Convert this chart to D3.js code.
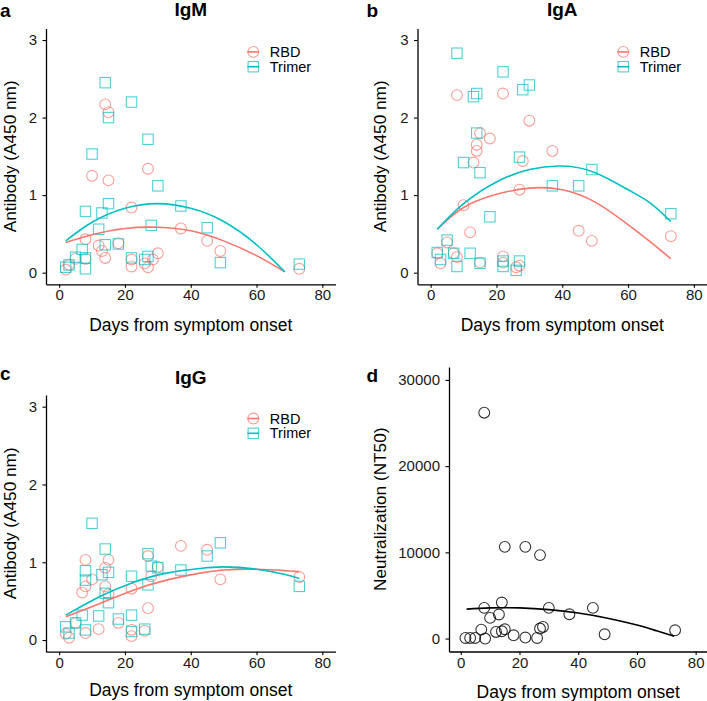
<!DOCTYPE html>
<html>
<head>
<meta charset="utf-8">
<script src="https://cdn.jsdelivr.net/npm/d3@7"></script>
<style>
  html, body { margin: 0; padding: 0; background: #fff; }
  svg { display: block; font-family: "Liberation Sans", Arial, sans-serif; }
</style>
</head>
<body>
<svg id="chart" width="707" height="701"></svg>
<script>
// ---------------- DATA ----------------
const xTicks = [0, 20, 40, 60, 80];
const abTicks = [0, 1, 2, 3];
const ntTicks = [0, 10000, 20000, 30000];
const seriesNames = ["RBD", "Trimer"];
const panelTitles = ["IgM", "IgA", "IgG"];
const panelLabels = ["a", "b", "c", "d"];

// IgM
const igmRbdDays   = [2, 3, 5, 8, 8, 10, 12, 13, 14, 14, 15, 15, 18, 22, 22, 22, 26, 27, 27, 28.5, 30, 37, 45, 49, 73];
const igmRbdVals   = [0.04, 0.10, 0.18, 0.43, 0.18, 1.25, 0.35, 0.28, 2.17, 0.19, 2.07, 1.19, 0.38, 0.84, 0.17, 0.08, 0.12, 1.34, 0.07, 0.17, 0.25, 0.57, 0.41, 0.28, 0.05];
const igmTriDays   = [2, 3, 5, 7, 8, 8, 8, 10, 12, 13, 14, 14, 15, 15, 18, 22, 22, 26, 27, 27, 28, 30, 37, 45, 49, 73];
const igmTriVals   = [0.07, 0.10, 0.20, 0.30, 0.79, 0.19, 0.05, 1.53, 0.56, 0.77, 2.45, 0.36, 2.00, 0.89, 0.37, 2.20, 0.19, 0.17, 1.72, 0.21, 0.61, 1.12, 0.86, 0.58, 0.13, 0.11];
const igmFitDays   = [2, 10, 20, 30, 40, 50, 60, 68.6];
const igmRbdFit    = [0.39, 0.49, 0.57, 0.585, 0.54, 0.41, 0.22, 0.01];
const igmTriFit    = [0.41, 0.65, 0.83, 0.89, 0.83, 0.66, 0.36, 0.01];

// IgA
const igaRbdDays   = [2, 3, 5, 7, 8, 8, 10, 12, 13, 14, 14, 15, 15, 18, 22, 22, 22, 26, 27, 27, 28, 30, 37, 45, 49, 73];
const igaRbdVals   = [0.25, 0.12, 0.39, 0.25, 2.29, 0.20, 0.87, 0.52, 1.42, 1.65, 1.57, 1.80, 0.13, 1.73, 2.31, 0.21, 0.13, 0.07, 1.07, 0.09, 1.44, 1.96, 1.57, 0.54, 0.41, 0.47];
const igaTriDays   = [2, 3, 5, 7, 8, 8, 10, 12, 13, 14, 14, 15, 15, 18, 22, 22, 22, 26, 27, 27, 28, 30, 37, 45, 49, 73];
const igaTriVals   = [0.26, 0.17, 0.42, 0.25, 2.83, 0.08, 1.42, 0.25, 2.27, 2.31, 1.80, 1.29, 0.12, 0.72, 2.59, 0.15, 0.08, 0.03, 1.49, 0.15, 2.36, 2.42, 1.12, 1.12, 1.33, 0.76];
const igaFitDays   = [2, 10, 20, 30, 40, 50, 60, 66.7, 73];
const igaRbdFit    = [0.56, 0.84, 1.01, 1.09, 1.07, 0.91, 0.62, 0.40, 0.18];
const igaTriFit    = [0.56, 0.89, 1.17, 1.33, 1.375, 1.29, 1.07, 0.90, 0.66];

// IgG
const iggRbdDays   = [2, 3, 5, 7, 8, 8, 8, 10, 12, 14, 14, 15, 15, 18, 22, 22, 22, 26, 27, 27, 28, 30, 37, 45, 49, 73];
const iggRbdVals   = [0.08, 0.03, 0.22, 0.61, 1.03, 0.69, 0.09, 0.78, 0.14, 0.69, 0.93, 1.03, 0.59, 0.22, 0.66, 0.13, 0.05, 0.12, 1.08, 0.41, 0.82, 0.94, 1.21, 1.16, 0.78, 0.81];
const iggTriDays   = [2, 3, 5, 7, 8, 8, 8, 10, 12, 13, 14, 14, 15, 15, 18, 22, 22, 22, 26, 27, 27, 28, 30, 37, 45, 49, 73];
const iggTriVals   = [0.17, 0.09, 0.22, 0.32, 0.89, 0.77, 0.13, 1.50, 0.31, 0.84, 1.17, 0.60, 0.87, 0.48, 0.27, 0.82, 0.32, 0.11, 0.14, 1.11, 0.71, 0.95, 0.93, 0.90, 1.08, 1.25, 0.69];
const iggFitDays   = [2, 12.4, 22.5, 32.6, 42.8, 50, 60, 69, 73];
const iggRbdFit    = [0.30, 0.47, 0.64, 0.77, 0.86, 0.90, 0.91, 0.89, 0.88];
const iggTriFit    = [0.32, 0.56, 0.74, 0.86, 0.92, 0.94, 0.91, 0.84, 0.79];

// Neutralization
const ntDays  = [1.6, 3.2, 4.9, 7, 8, 8, 8.3, 10, 12, 13, 14, 14, 15, 15, 18, 22, 22, 26, 27, 27, 28, 30, 37, 45, 49, 73];
const ntVals  = [70, 70, 70, 1040, 26200, 3560, 0, 2400, 770, 2790, 4180, 850, 10640, 1080, 380, 10640, 120, 70, 9680, 1160, 1350, 3560, 2820, 3560, 500, 960];
const ntFitDays = [2, 10, 20, 30, 40, 50, 60, 66.7, 72.7];
const ntFit     = [3410, 3555, 3555, 3355, 2960, 2360, 1570, 900, 270];

// ---------------- DRAWING ----------------
const RED = "#F8766D", TEAL = "#00BFC4";
const svg = d3.select("#chart");
const FONT = '"Liberation Sans", Arial, sans-serif';

function zip(a, b) { return a.map((d, i) => [d, b[i]]); }

function drawPanel(cfg) {
  const x = d3.scaleLinear().domain([-4, 84]).range([cfg.left, cfg.right]);
  const y = d3.scaleLinear().domain(cfg.yDomain).range([cfg.bottom, cfg.top]);
  const g = svg.append("g");

  // axes
  const xa = g.append("g").attr("transform", `translate(0,${cfg.bottom})`)
    .call(d3.axisBottom(x).tickValues(xTicks).tickFormat(d3.format("d")).tickSize(3.5).tickSizeOuter(0).tickPadding(2));
  const ya = g.append("g").attr("transform", `translate(${cfg.left},0)`)
    .call(d3.axisLeft(y).tickValues(cfg.yTicks).tickFormat(d3.format("d")).tickSize(3.5).tickSizeOuter(0).tickPadding(5.5));
  [xa, ya].forEach(a => {
    a.select(".domain").attr("stroke", "#000").attr("stroke-width", 1.3);
    a.selectAll(".tick line").attr("stroke", "#000").attr("stroke-width", 1.1);
    a.selectAll(".tick text").attr("fill", "#1a1a1a").style("font-size", "15px").style("font-family", FONT);
  });

  // axis titles
  g.append("text").attr("x", (cfg.left + cfg.right) / 2).attr("y", cfg.xTitleY)
    .attr("text-anchor", "middle").style("font-size", "17.5px").text("Days from symptom onset");
  g.append("text").attr("transform", `translate(${cfg.yTitleX},${(cfg.top + cfg.bottom) / 2}) rotate(-90)`)
    .attr("text-anchor", "middle").style("font-size", "17.2px").text(cfg.yTitle);

  // panel label and title
  g.append("text").attr("x", cfg.labelX).attr("y", cfg.labelY).style("font-size", "19px")
    .style("font-weight", "bold").text(cfg.label);
  if (cfg.title) {
    g.append("text").attr("x", (cfg.left + cfg.right) / 2).attr("y", cfg.titleY)
      .attr("text-anchor", "middle").style("font-size", "19px").style("font-weight", "bold").text(cfg.title);
  }

  const line = d3.line().x(d => x(d[0])).y(d => y(d[1])).curve(d3.curveNatural);

  cfg.series.forEach(s => {
    const pts = zip(s.days, s.vals);
    if (s.shape === "circle") {
      g.append("g").selectAll("circle").data(pts).join("circle")
        .attr("cx", d => x(d[0])).attr("cy", d => y(d[1])).attr("r", 5.4)
        .attr("fill", "none").attr("stroke", s.color).attr("stroke-width", 1.1)
        .attr("stroke-opacity", s.opacity);
    } else {
      g.append("g").selectAll("rect").data(pts).join("rect")
        .attr("x", d => x(d[0]) - 5.2).attr("y", d => y(d[1]) - 5.2)
        .attr("width", 10.4).attr("height", 10.4)
        .attr("fill", "none").attr("stroke", s.color).attr("stroke-width", 1.1)
        .attr("stroke-opacity", s.opacity);
    }
  });
  cfg.series.forEach(s => {
    g.append("path").datum(zip(s.fitDays, s.fit)).attr("d", line)
      .attr("fill", "none").attr("stroke", s.lineColor).attr("stroke-width", 1.6);
  });

  // legend
  if (cfg.legend) {
    const lx = cfg.right - cfg.legend.dx, ly = cfg.top + 23.5;
    cfg.series.forEach((s, i) => {
      const cy = ly + i * 14.8;
      const lg = g.append("g");
      if (s.shape === "circle") {
        lg.append("circle").attr("cx", lx).attr("cy", cy).attr("r", 5.4)
          .attr("fill", "none").attr("stroke", s.color).attr("stroke-width", 1.1).attr("stroke-opacity", s.opacity);
      } else {
        lg.append("rect").attr("x", lx - 5.2).attr("y", cy - 5.2).attr("width", 10.4).attr("height", 10.4)
          .attr("fill", "none").attr("stroke", s.color).attr("stroke-width", 1.1).attr("stroke-opacity", s.opacity);
      }
      lg.append("line").attr("x1", lx - 6).attr("x2", lx + 6).attr("y1", cy).attr("y2", cy)
        .attr("stroke", s.lineColor).attr("stroke-width", 1.6);
      lg.append("text").attr("x", lx + 16.5).attr("y", cy + 5).style("font-size", "14.5px").text(seriesNames[i]);
    });
  }
}

function abSeries(rd, rv, td, tv, fd, rf, tf) {
  return [
    { shape: "circle", days: rd, vals: rv, color: RED, lineColor: RED, opacity: 0.7, fitDays: fd, fit: rf },
    { shape: "square", days: td, vals: tv, color: TEAL, lineColor: TEAL, opacity: 0.7, fitDays: fd, fit: tf }
  ];
}

drawPanel({
  left: 46, right: 335.5, top: 28.4, bottom: 284.3, yDomain: [-0.15, 3.15], yTicks: abTicks,
  xTitleY: 331, yTitleX: 16, yTitle: "Antibody (A450 nm)",
  label: panelLabels[0], labelX: 0, labelY: 16.5, title: panelTitles[0], titleY: 16,
  legend: { dx: 82.2 },
  series: abSeries(igmRbdDays, igmRbdVals, igmTriDays, igmTriVals, igmFitDays, igmRbdFit, igmTriFit)
});
drawPanel({
  left: 417.5, right: 707, top: 28.4, bottom: 284.3, yDomain: [-0.15, 3.15], yTicks: abTicks,
  xTitleY: 331, yTitleX: 386, yTitle: "Antibody (A450 nm)",
  label: panelLabels[1], labelX: 366.5, labelY: 16.5, title: panelTitles[1], titleY: 16,
  legend: { dx: 83.7 },
  series: abSeries(igaRbdDays, igaRbdVals, igaTriDays, igaTriVals, igaFitDays, igaRbdFit, igaTriFit)
});
drawPanel({
  left: 46, right: 335.5, top: 395, bottom: 651.7, yDomain: [-0.15, 3.15], yTicks: abTicks,
  xTitleY: 696, yTitleX: 16, yTitle: "Antibody (A450 nm)",
  label: panelLabels[2], labelX: 0, labelY: 380, title: panelTitles[2], titleY: 383.5,
  legend: { dx: 82.2 },
  series: abSeries(iggRbdDays, iggRbdVals, iggTriDays, iggTriVals, iggFitDays, iggRbdFit, iggTriFit)
});
drawPanel({
  left: 449, right: 707.4, top: 367, bottom: 651.5, yDomain: [-1500, 31500], yTicks: ntTicks,
  xTitleY: 697.5, yTitleX: 386, yTitle: "Neutralization (NT50)",
  label: panelLabels[3], labelX: 366.5, labelY: 381.7, title: null, titleY: 0,
  legend: null,
  series: [{ shape: "circle", days: ntDays, vals: ntVals, color: "#000", lineColor: "#000", opacity: 0.8, fitDays: ntFitDays, fit: ntFit }]
});
</script>
</body>
</html>
